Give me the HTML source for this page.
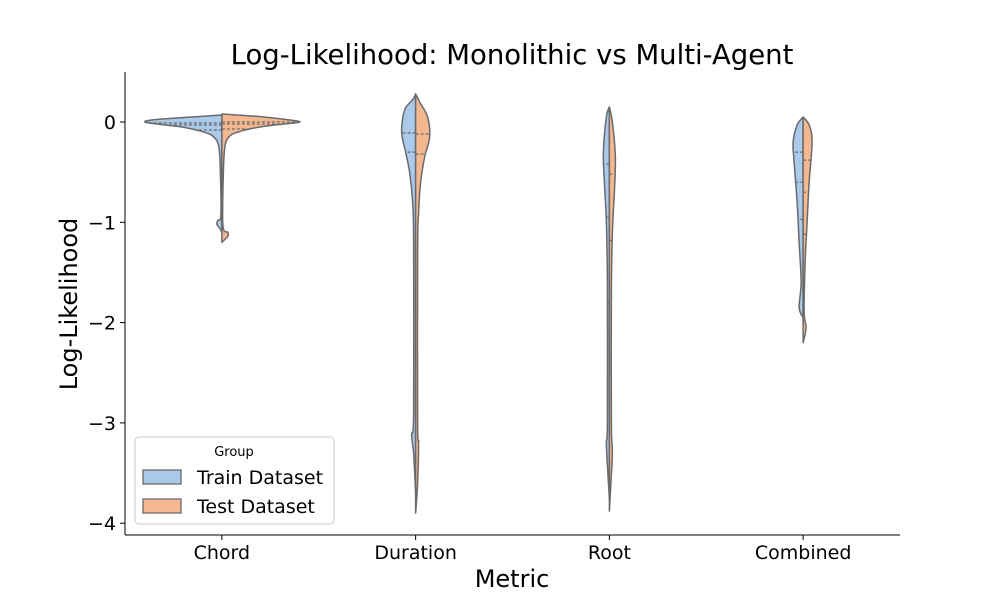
<!DOCTYPE html>
<html><head><meta charset="utf-8"><style>
body{margin:0;background:#fff}
svg{display:block;font-family:"DejaVu Sans","Liberation Sans",sans-serif}
</style></head><body>
<svg id="chart" width="1000" height="600" viewBox="0 0 1000 600">
<text x="512" y="64" font-size="27.5" text-anchor="middle">Log-Likelihood: Monolithic vs Multi-Agent</text>
<g id="plot"></g>
<g id="axes"></g>
<text x="512" y="587" font-size="24" text-anchor="middle">Metric</text>
<text transform="translate(77,304) rotate(-90)" font-size="24" text-anchor="middle">Log-Likelihood</text>
<g>
<rect x="135" y="437" width="199" height="87" rx="4" fill="#fff" stroke="#ccc"/>
<text x="234" y="456" font-size="13" text-anchor="middle">Group</text>
<rect x="143" y="470" width="38" height="14" fill="#abc9ea" stroke="#6a6a6a" stroke-width="1.3"/>
<text x="197" y="484" font-size="19">Train Dataset</text>
<rect x="143" y="499" width="38" height="14" fill="#f4b890" stroke="#6a6a6a" stroke-width="1.3"/>
<text x="197" y="513" font-size="19">Test Dataset</text>
</g>
</svg>
<script>
const categories=["Chord","Duration","Root","Combined"];
const yTicks=[0,-1,-2,-3,-4];
// density profiles: [value, half-width] per half
const trainProfiles=[
 [[0.07,0],[0.06,15],[0.04,45],[0.02,70],[0.0,77],[-0.02,65],[-0.05,40],[-0.1,18],[-0.15,8],[-0.25,3],[-0.5,1.5],[-0.93,1],[-0.98,4],[-1.02,5],[-1.06,2],[-1.1,0]],
 [[0.28,0],[0.22,3],[0.12,11],[-0.1,14],[-0.3,10],[-0.5,6],[-0.8,3],[-1.2,2],[-2.9,2],[-3.12,4],[-3.3,2],[-3.7,0]],
 [[0.15,0],[0.05,3],[-0.3,6],[-0.6,5],[-1.0,3],[-1.6,2],[-3.0,2],[-3.2,3],[-3.5,1.5],[-3.75,0]],
 [[0.05,0],[-0.03,6],[-0.2,10],[-0.4,9],[-0.8,6],[-1.2,4],[-1.6,2],[-1.85,4],[-1.95,0]]
];
const testProfiles=[
 [[0.08,0],[0.07,15],[0.05,42],[0.02,68],[0.0,78],[-0.02,62],[-0.05,38],[-0.1,16],[-0.15,7],[-0.25,3],[-0.5,1.5],[-1.03,1],[-1.1,6],[-1.14,6],[-1.18,2],[-1.2,0]],
 [[0.28,0],[0.2,4],[0.05,12],[-0.15,14],[-0.35,9],[-0.6,5],[-0.9,3],[-1.3,2],[-3.0,2],[-3.2,3],[-3.6,2],[-3.9,0]],
 [[0.15,0],[0.0,3],[-0.35,6],[-0.7,5],[-1.1,3],[-1.7,2],[-3.0,2],[-3.3,3],[-3.6,1.5],[-3.88,0]],
 [[0.05,0],[-0.03,6],[-0.2,9],[-0.6,6],[-1.0,4],[-1.4,2],[-1.9,1],[-2.05,3],[-2.2,0]]
];
const trainQuartiles=[[-0.01,-0.03,-0.08],[-0.11,-0.3],[-0.42,-0.95,-1.8],[-0.3,-0.6,-0.97]];
const testQuartiles=[[0.0,-0.02,-0.07],[-0.12,-0.32],[-0.52,-1.18,-2.5],[-0.38,-0.7,-1.12]];

const NS="http://www.w3.org/2000/svg";
const x0=125,x1=900,yTop=72,yBot=535;
function xScale(i){return x0+(x1-x0)/categories.length*(i+0.5);}
function yScale(v){return 122-v*100.3;}
function mk(tag,attrs,parent){const e=document.createElementNS(NS,tag);for(const k in attrs)e.setAttribute(k,attrs[k]);parent.appendChild(e);return e;}
function widthAt(prof,v){for(let k=0;k<prof.length-1;k++){const a=prof[k],b=prof[k+1];if(v<=a[0]&&v>=b[0]){const t=(a[0]-v)/(a[0]-b[0]||1);return a[1]+(b[1]-a[1])*t;}}return 0;}
const plot=document.getElementById('plot'),axes=document.getElementById('axes');
function smoothPath(pts){
  let d=`L${pts[0][0]},${pts[0][1]}`;
  for(let k=0;k<pts.length-1;k++){
    const p0=pts[Math.max(0,k-1)],p1=pts[k],p2=pts[k+1],p3=pts[Math.min(pts.length-1,k+2)];
    const c1=[p1[0]+(p2[0]-p0[0])/6,p1[1]+(p2[1]-p0[1])/6];
    const c2=[p2[0]-(p3[0]-p1[0])/6,p2[1]-(p3[1]-p1[1])/6];
    d+=` C${c1[0]},${c1[1]} ${c2[0]},${c2[1]} ${p2[0]},${p2[1]}`;
  }
  return d;
}
function half(i,prof,sign,fill,name){
  const cx=xScale(i);
  const pts=prof.map(p=>[cx+sign*p[1],yScale(p[0])]);
  let d=`M${cx},${yScale(prof[0][0])} `+smoothPath(pts)+` L${cx},${yScale(prof[prof.length-1][0])} Z`;
  const p=mk('path',{d:d,fill:fill,stroke:'#6a6a6a','stroke-width':1.5,'stroke-linejoin':'round'},plot);
  
  
}
function quart(i,prof,qs,sign,name){
  const cx=xScale(i);
  qs.forEach(q=>{const w=widthAt(prof,q);
    const l=mk('line',{x1:cx,x2:cx+sign*w,y1:yScale(q),y2:yScale(q),stroke:'#6a6a6a','stroke-width':1.2,'stroke-dasharray':'3,2'},plot);
    
    });
}
categories.forEach((c,i)=>{
  half(i,trainProfiles[i],-1,'#abc9ea','violin-train-'+c.toLowerCase());
  half(i,testProfiles[i],1,'#f4b890','violin-test-'+c.toLowerCase());
  quart(i,trainProfiles[i],trainQuartiles[i],-1,'quartile-train-'+c.toLowerCase());
  quart(i,testProfiles[i],testQuartiles[i],1,'quartile-test-'+c.toLowerCase());
  const cx=xScale(i);
  mk('line',{x1:cx,x2:cx,y1:yBot,y2:yBot+5,stroke:'#000'},axes);
  const t=mk('text',{x:cx,y:yBot+24,'font-size':19,'text-anchor':'middle'},axes);
  t.textContent=c;
  
  
});
yTicks.forEach(v=>{
  const y=yScale(v);
  mk('line',{x1:x0-5,x2:x0,y1:y,y2:y,stroke:'#000'},axes);
  const t=mk('text',{x:x0-9,y:y+7,'font-size':19,'text-anchor':'end'},axes);
  t.textContent=v<0?'\u2212'+(-v):String(v);
  
  
});
const ya=mk('line',{x1:x0,x2:x0,y1:yTop,y2:yBot,stroke:'#000','stroke-width':1},axes);


const xa=mk('line',{x1:x0,x2:x1,y1:yBot,y2:yBot,stroke:'#000','stroke-width':1},axes);


</script>
</body></html>
